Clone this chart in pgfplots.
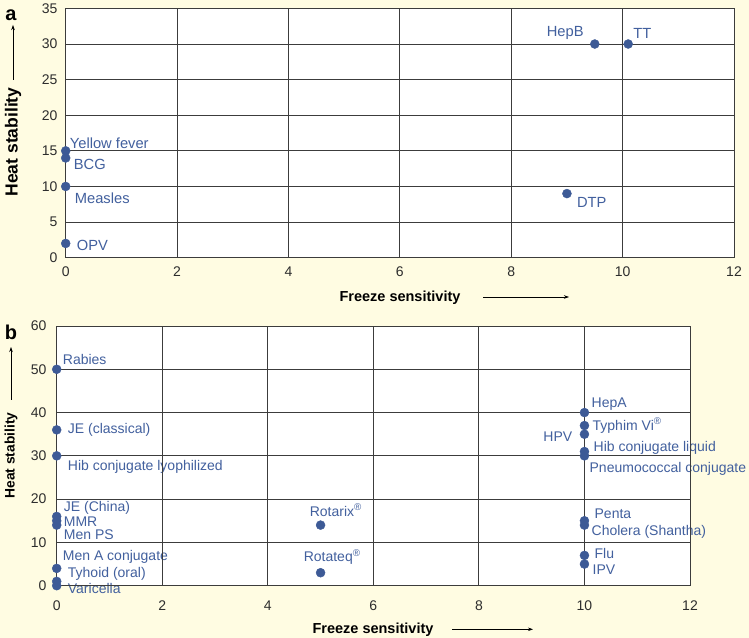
\documentclass[border=0pt]{standalone}
\usepackage{fontspec}
\setmainfont{Liberation Sans}
\usepackage{pgfplots}
\pgfplotsset{compat=1.18}
\usetikzlibrary{arrows.meta}

\definecolor{Cream}   {RGB}{255,252,226}
\definecolor{DotBlue} {RGB}{ 61, 90,150}
\definecolor{LabBlue} {RGB}{ 66, 96,158}
\definecolor{GridGray}{RGB}{ 60, 60, 60}
\definecolor{TickGray}{RGB}{ 45, 45, 45}

\newcommand{\laba}{\fontsize{14.7bp}{16bp}\selectfont}
\newcommand{\labb}{\fontsize{14bp}{16bp}\selectfont}
\newcommand{\tck}{\fontsize{14bp}{15bp}\selectfont}
\newcommand{\ttl}{\fontsize{14.5bp}{16bp}\selectfont\bfseries}

\tikzset{
  lbl/.style={font=\labb, text=LabBlue, inner sep=0pt},
  lbla/.style={font=\laba, text=LabBlue, inner sep=0pt},
  upar/.style={-{Stealth[length=5bp,width=3.5bp]}, line width=0.6bp},
}

\pgfplotsset{
  panelbase/.style={
    scale only axis, anchor=south west,
    xmin=0, xmax=12, ymin=0, xtick={0,2,...,12},
  },
  % back copy: white plot area and the point names (under the grid)
  panelback/.style={panelbase, hide axis, clip=false},
  % front copy: grid, frame, tick labels and the dots
  panelfront/.style={
    panelbase,
    grid=major,
    major grid style={draw=GridGray, line width=0.9bp},
    axis line style={draw=GridGray, line width=0.9bp},
    major tick length=0pt,
    tick label style={font=\tck, color=TickGray, inner sep=0pt},
    /pgf/number format/assume math mode=true,
  },
  dots/.style={only marks, mark=*, mark size=4.5bp, color=DotBlue},
}

\begin{document}
\begin{tikzpicture}
\fill[Cream] (0,0) rectangle (749bp,638bp);
\useasboundingbox (0,0) rectangle (749bp,638bp);

% ---------------- panel a ----------------
\begin{axis}[panelback, at={(65.7bp,380.3bp)}, width=668.3bp, height=249.3bp,
    ymax=35]
\fill[white] (rel axis cs:0,0) rectangle (rel axis cs:1,1);
\node[lbla, anchor=west] at (axis cs:0,15)   [xshift=4bp,  yshift=8bp]   {Yellow fever};
\node[lbla, anchor=west] at (axis cs:0,14)   [xshift=8bp,  yshift=-6bp]  {BCG};
\node[lbla, anchor=west] at (axis cs:0,10)   [xshift=9bp,  yshift=-12bp] {Measles};
\node[lbla, anchor=west] at (axis cs:0,2)    [xshift=11bp, yshift=-2bp]  {OPV};
\node[lbla, anchor=east] at (axis cs:9.5,30) [xshift=-11bp,yshift=11bp]  {HepB};
\node[lbla, anchor=west] at (axis cs:10.1,30)[xshift=5bp,  yshift=11bp]  {TT};
\node[lbla, anchor=west] at (axis cs:9,9)    [xshift=10bp, yshift=-9bp]  {DTP};
\end{axis}

\begin{axis}[panelfront, at={(65.7bp,380.3bp)}, width=668.3bp, height=249.3bp,
    ymax=35, ytick={0,5,...,35},
    xticklabel style={anchor=north, yshift=-9bp},
    yticklabel style={anchor=east, xshift=-8bp}]
\addplot[dots] coordinates {
    (0,15) (0,14) (0,10) (0,2) (9.5,30) (10.1,30) (9,9)
};
\end{axis}

\node[font=\fontsize{20bp}{22bp}\selectfont\bfseries] at (11bp,623bp) {a};
\node[font=\fontsize{17.5bp}{19bp}\selectfont\bfseries, rotate=90] at (13bp,496bp) {Heat stability};
\draw[upar] (13bp,558bp) -- (13bp,613bp);
\node[font=\ttl] at (400bp,340bp) {Freeze sensitivity};
\draw[upar] (483bp,341bp) -- (569bp,341bp);

% ---------------- panel b ----------------
\begin{axis}[panelback, at={(56.7bp,52.3bp)}, width=633.3bp, height=259.7bp,
    ymax=60]
\fill[white] (rel axis cs:0,0) rectangle (rel axis cs:1,1);
\node[lbl, anchor=west] at (axis cs:0,50)  [xshift=6bp,  yshift=10bp]  {Rabies};
\node[lbl, anchor=west] at (axis cs:0,36)  [xshift=11bp, yshift=0bp]   {JE (classical)};
\node[lbl, anchor=west] at (axis cs:0,30)  [xshift=11bp, yshift=-11bp] {Hib conjugate lyophilized};
\node[lbl, anchor=west] at (axis cs:0,16)  [xshift=7bp,  yshift=9bp]   {JE (China)};
\node[lbl, anchor=west] at (axis cs:0,15)  [xshift=7bp,  yshift=-1bp]  {MMR};
\node[lbl, anchor=west] at (axis cs:0,14)  [xshift=7bp,  yshift=-10bp] {Men PS};
\node[lbl, anchor=west] at (axis cs:0,4)   [xshift=6bp,  yshift=12bp]  {Men A conjugate};
\node[lbl, anchor=west] at (axis cs:0,1)   [xshift=11bp, yshift=7bp]   {Tyhoid (oral)};
\node[lbl, anchor=west] at (axis cs:0,0)   [xshift=11bp, yshift=-3bp]  {Varicella};
\node[lbl, anchor=west] at (axis cs:5,14)  [xshift=-11bp,yshift=15bp]  {Rotarix\textsuperscript{®}};
\node[lbl, anchor=west] at (axis cs:5,3)   [xshift=-17bp,yshift=16bp]  {Rotateq\textsuperscript{®}};
\node[lbl, anchor=west] at (axis cs:10,40) [xshift=7bp,  yshift=8bp]   {HepA};
\node[lbl, anchor=west] at (axis cs:10,37) [xshift=8bp,  yshift=0bp]   {Typhim Vi\textsuperscript{®}};
\node[lbl, anchor=east] at (axis cs:10,35) [xshift=-12bp,yshift=-2bp]  {HPV};
\node[lbl, anchor=west] at (axis cs:10,31) [xshift=9bp,  yshift=4bp]   {Hib conjugate liquid};
\node[lbl, anchor=west] at (axis cs:10,30) [xshift=5bp,  yshift=-13bp] {Pneumococcal conjugate};
\node[lbl, anchor=west] at (axis cs:10,15) [xshift=10bp, yshift=7bp]   {Penta};
\node[lbl, anchor=west] at (axis cs:10,14) [xshift=7bp,  yshift=-7bp]  {Cholera (Shantha)};
\node[lbl, anchor=west] at (axis cs:10,7)  [xshift=10bp, yshift=2bp]   {Flu};
\node[lbl, anchor=west] at (axis cs:10,5)  [xshift=8bp,  yshift=-6bp]  {IPV};
\end{axis}

\begin{axis}[panelfront, at={(56.7bp,52.3bp)}, width=633.3bp, height=259.7bp,
    ymax=60, ytick={0,10,...,60},
    xticklabel style={anchor=north, yshift=-15bp},
    yticklabel style={anchor=east, xshift=-10bp}]
\addplot[dots] coordinates {
    (0,50) (0,36) (0,30) (0,16) (0,15) (0,14) (0,4) (0,1) (0,0)
    (5,14) (5,3)
    (10,40) (10,37) (10,35) (10,31) (10,30) (10,15) (10,14) (10,7) (10,5)
};
\end{axis}

\node[font=\fontsize{20bp}{22bp}\selectfont\bfseries] at (11bp,306bp) {b};
\node[font=\fontsize{13.8bp}{15bp}\selectfont\bfseries, rotate=90] at (11bp,182.5bp) {Heat stability};
\draw[upar] (11bp,238bp) -- (11bp,291bp);
\node[font=\ttl] at (373bp,8bp) {Freeze sensitivity};
\draw[upar] (452bp,8.7bp) -- (533bp,8.7bp);
\end{tikzpicture}
\end{document}
